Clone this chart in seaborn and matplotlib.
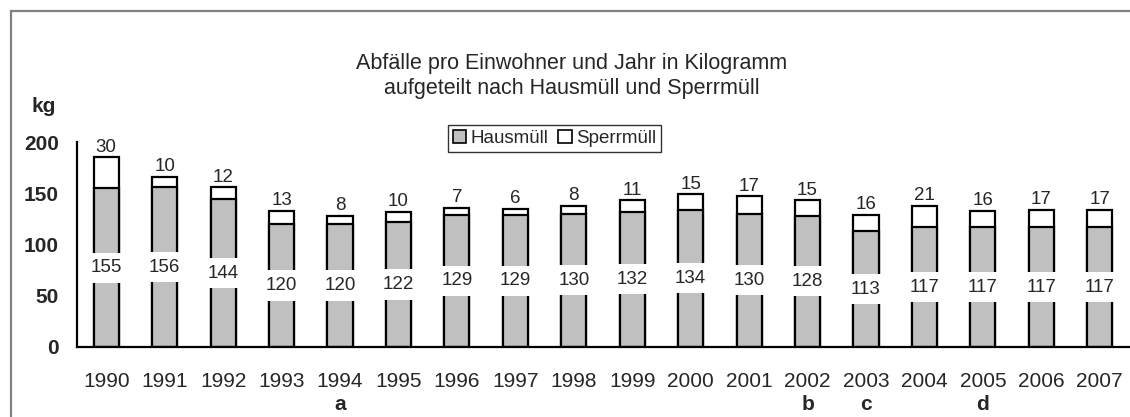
import matplotlib
matplotlib.use("Agg")
import matplotlib.pyplot as plt
import matplotlib.transforms as mtransforms
from matplotlib.patches import Patch, Rectangle
import seaborn as sns
import pandas as pd

years = ["1990", "1991", "1992", "1993", "1994", "1995", "1996", "1997", "1998",
         "1999", "2000", "2001", "2002", "2003", "2004", "2005", "2006", "2007"]
hausmuell = [155, 156, 144, 120, 120, 122, 129, 129, 130, 132, 134, 130, 128, 113, 117, 117, 117, 117]
sperrmuell = [30, 10, 12, 13, 8, 10, 7, 6, 8, 11, 15, 17, 15, 16, 21, 16, 17, 17]
notes = ["", "", "", "", "a", "", "", "", "", "", "", "", "b", "c", "", "d", "", ""]
yticks = [0, 50, 100, 150, 200]

df = pd.DataFrame({"Jahr": years, "Hausmüll": hausmuell, "Sperrmüll": sperrmuell})
df["Gesamt"] = df["Hausmüll"] + df["Sperrmüll"]

sns.set_style("white")
plt.rcParams["font.family"] = ["Liberation Sans", "DejaVu Sans"]

fig = plt.figure(figsize=(11.3, 4.17), dpi=100)
ax = fig.add_axes([77 / 1130, 1 - 347 / 417, (1129 - 77) / 1130, 205 / 417])

grey = "#C0C0C0"
sns.barplot(data=df, x="Jahr", y="Gesamt", color="white", edgecolor="black",
            linewidth=1.6, width=0.43, saturation=1, ax=ax)
sns.barplot(data=df, x="Jahr", y="Hausmüll", color=grey, edgecolor="black",
            linewidth=1.6, width=0.43, saturation=1, ax=ax)

ax.bar_label(ax.containers[0], labels=[str(v) for v in sperrmuell], padding=1,
             fontsize=13.5)
ax.bar_label(ax.containers[1], labels=[str(v) for v in hausmuell], label_type="center",
             fontsize=13.5, bbox=dict(facecolor="white", edgecolor="none", pad=4.7))

ax.set_xlim(-0.5, len(years) - 0.5)
ax.set_ylim(0, 200)
ax.set_yticks(yticks)
ax.set_yticklabels([str(t) for t in yticks], fontsize=15, fontweight="bold")
ax.set_xlabel("")
ax.set_ylabel("")
ax.tick_params(axis="x", which="major", length=0, pad=18, labelsize=15)
ax.set_xticks([i - 0.5 for i in range(len(years) + 1)], minor=True)
ax.tick_params(axis="x", which="minor", length=6, width=1.6, direction="out", color="black")
ax.tick_params(axis="y", length=6, width=1.6, direction="out", color="black", pad=7)
for s in ["top", "right"]:
    ax.spines[s].set_visible(False)
for s in ["left", "bottom"]:
    ax.spines[s].set_color("black")
    ax.spines[s].set_linewidth(1.6)

trans = mtransforms.blended_transform_factory(ax.transData, ax.transAxes)
for i, n in enumerate(notes):
    if n:
        ax.text(i, (347 - 410) / 205, n, transform=trans, ha="center", va="baseline",
                fontsize=15, fontweight="bold")

fig.text(572 / 1130, 1 - 76 / 417,
         "Abfälle pro Einwohner und Jahr in Kilogramm\naufgeteilt nach Hausmüll und Sperrmüll",
         ha="center", va="center", fontsize=15.5, linespacing=1.3)
fig.text(44 / 1130, 1 - 106 / 417, "kg", ha="center", va="center", fontsize=15,
         fontweight="bold")

handles = [Patch(facecolor=grey, edgecolor="black", linewidth=1.2, label="Hausmüll"),
           Patch(facecolor="white", edgecolor="black", linewidth=1.2, label="Sperrmüll")]
leg = fig.legend(handles=handles, loc="upper left", bbox_to_anchor=(448 / 1130, 1 - 125 / 417),
                 ncol=2, fontsize=13.5, frameon=True, fancybox=False, shadow=False,
                 handlelength=0.72, handleheight=0.7, handletextpad=0.25,
                 columnspacing=0.5, borderpad=0.25, borderaxespad=0)
leg.get_frame().set_edgecolor("black")
leg.get_frame().set_linewidth(1.0)

fig.patches.append(Rectangle((11 / 1130, -0.1), 1.2, 1 - 11 / 417 + 0.1,
                             transform=fig.transFigure, fill=False,
                             edgecolor="#808080", linewidth=1.6))

fig.savefig("out.png", dpi=100)
